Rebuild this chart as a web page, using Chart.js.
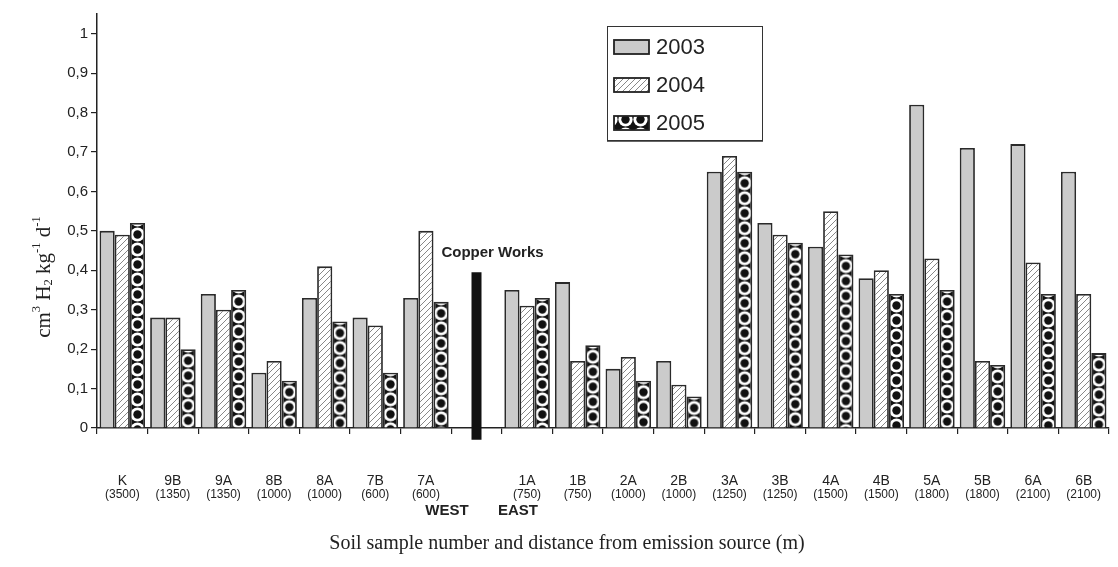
<!DOCTYPE html>
<html>
<head>
<meta charset="utf-8">
<script src="https://cdn.jsdelivr.net/npm/chart.js@4.4.0/dist/chart.umd.min.js"></script>
<style>
    html, body { margin: 0; padding: 0; background: #fff; }
</style>
</head>
<body>
<canvas id="soilChart" width="1118" height="567"></canvas>
<script>
const samples = ['K', '9B', '9A', '8B', '8A', '7B', '7A', '', '1A', '1B', '2A', '2B', '3A', '3B', '4A', '4B', '5A', '5B', '6A', '6B'];
const distances = ['(3500)', '(1350)', '(1350)', '(1000)', '(1000)', '(600)', '(600)', '', '(750)', '(750)', '(1000)', '(1000)', '(1250)', '(1250)', '(1500)', '(1500)', '(1800)', '(1800)', '(2100)', '(2100)'];
const years = ['2003', '2004', '2005'];
const values2003 = [0.50, 0.28, 0.34, 0.14, 0.33, 0.28, 0.33, null, 0.35, 0.37, 0.15, 0.17, 0.65, 0.52, 0.46, 0.38, 0.82, 0.71, 0.72, 0.65];
const values2004 = [0.49, 0.28, 0.30, 0.17, 0.41, 0.26, 0.50, null, 0.31, 0.17, 0.18, 0.11, 0.69, 0.49, 0.55, 0.40, 0.43, 0.17, 0.42, 0.34];
const values2005 = [0.52, 0.20, 0.35, 0.12, 0.27, 0.14, 0.32, null, 0.33, 0.21, 0.12, 0.08, 0.65, 0.47, 0.44, 0.34, 0.35, 0.16, 0.34, 0.19];
const copperWorks = [null, null, null, null, null, null, null, [-0.03, 0.395], null, null, null, null, null, null, null, null, null, null, null, null];
const yTicks = [0, 0.1, 0.2, 0.3, 0.4, 0.5, 0.6, 0.7, 0.8, 0.9, 1];

const ink = '#222';
const ctx = document.getElementById('soilChart').getContext('2d');

// fill tiles for the 2004 and 2005 bars
const hatchTile = document.createElement('canvas');
hatchTile.width = 6; hatchTile.height = 6;
(function () {
    const g = hatchTile.getContext('2d');
    g.fillStyle = '#fff';
    g.fillRect(0, 0, 6, 6);
    g.strokeStyle = '#6a6a6a';
    g.lineWidth = 0.8;
    g.beginPath();
    g.moveTo(-1, 7); g.lineTo(7, -1);
    g.moveTo(-1, 1); g.lineTo(1, -1);
    g.moveTo(5, 7); g.lineTo(7, 5);
    g.stroke();
})();

const dotTile = document.createElement('canvas');
dotTile.width = 15; dotTile.height = 15;
(function () {
    const g = dotTile.getContext('2d');
    g.fillStyle = '#111';
    g.fillRect(0, 0, 15, 15);
    g.fillStyle = '#fff';
    g.beginPath(); g.arc(7.5, 7.5, 7.1, 0, Math.PI * 2); g.fill();
    g.fillStyle = '#111';
    g.beginPath(); g.arc(7.5, 7.5, 4.2, 0, Math.PI * 2); g.fill();
})();

const hatchFill = ctx.createPattern(hatchTile, 'repeat');

function dotFill(tx, ty) {
    const p = ctx.createPattern(dotTile, 'repeat');
    p.setTransform(new DOMMatrix([1, 0, 0, 1, tx, ty]));
    return p;
}

function dotBarFill(c) {
    const xs = c.chart.scales.x, ys = c.chart.scales.y;
    if (!xs || c.dataIndex === undefined || c.raw == null) return dotFill(0, 0);
    const slot = xs.width / samples.length;
    const center = xs.getPixelForValue(c.dataIndex) + slot * 0.3;
    return dotFill(center - 7.5, ys.getPixelForValue(c.raw) + 4);
}

function drawSegments(g, parts, x, y, size) {
    // parts: [text, 'n' | 'sup' | 'sub']
    let cx = x;
    parts.forEach(([t, kind]) => {
        const fs = kind === 'n' ? size : size * 0.6;
        const dy = kind === 'sup' ? -size * 0.33 : kind === 'sub' ? size * 0.22 : 0;
        g.font = fs + 'px "Liberation Serif", "Times New Roman", serif';
        g.fillText(t, cx, y + dy);
        cx += g.measureText(t).width;
    });
    return cx - x;
}

const decorations = {
    id: 'decorations',
    afterDraw(chart) {
        const g = chart.ctx;
        const xs = chart.scales.x, ys = chart.scales.y;
        g.save();
        g.fillStyle = ink;
        g.textAlign = 'center';
        g.textBaseline = 'middle';

        samples.forEach((s, i) => {
            if (!s) return;
            const x = xs.getPixelForValue(i);
            g.font = '14px "Liberation Sans", Arial, sans-serif';
            g.fillText(s, x, 481);
            g.font = '12px "Liberation Sans", Arial, sans-serif';
            g.fillText(distances[i], x, 495);
        });

        g.font = 'bold 15px "Liberation Sans", Arial, sans-serif';
        g.fillText('WEST', 447, 511);
        g.fillText('EAST', 518, 511);

        const cwIndex = copperWorks.findIndex(v => v);
        const cwX = xs.getPixelForValue(cwIndex);
        const cwTop = ys.getPixelForValue(copperWorks[cwIndex][1]);
        g.font = 'bold 15px "Liberation Sans", Arial, sans-serif';
        g.fillText('Copper Works', cwX + 16, cwTop - 19);

        // x axis title
        g.font = '20px "Liberation Serif", "Times New Roman", serif';
        g.fillText('Soil sample number and distance from emission source (m)', 567, 544);

        // y axis title
        g.save();
        g.translate(44, 277);
        g.rotate(-Math.PI / 2);
        g.textAlign = 'left';
        g.textBaseline = 'middle';
        const parts = [['cm', 'n'], ['3', 'sup'], [' H', 'n'], ['2', 'sub'], [' kg', 'n'], ['-1', 'sup'], [' d', 'n'], ['-1', 'sup']];
        g.globalAlpha = 0;
        const w = drawSegments(g, parts, 0, 0, 21);
        g.globalAlpha = 1;
        drawSegments(g, parts, -w / 2, 0, 21);
        g.restore();

        // legend
        const lx = 607, ly = 26, lw = 155, lh = 114;
        g.strokeStyle = '#333';
        g.lineWidth = 1;
        g.strokeRect(lx + 0.5, ly + 0.5, lw, lh);
        g.lineWidth = 1.5;
        g.beginPath();
        g.moveTo(lx, ly + lh + 1); g.lineTo(lx + lw + 1, ly + lh + 1);
        g.stroke();
        g.textAlign = 'left';
        g.font = '22px "Liberation Sans", Arial, sans-serif';
        years.forEach((yr, i) => {
            const cy = 47 + i * 38;
            const sx = 614, sy = cy - 7, sw = 35, sh = 14;
            const ds = chart.data.datasets[i];
            g.fillStyle = i === 2 ? dotFill(sx + 4, sy - 4) : ds.backgroundColor;
            g.fillRect(sx, sy, sw, sh);
            g.strokeStyle = ink;
            g.lineWidth = 1.8;
            g.strokeRect(sx, sy, sw, sh);
            g.fillStyle = ink;
            g.fillText(yr, 656, cy + 1);
        });
        g.restore();
    }
};

const soilChart = new Chart(ctx, {
    type: 'bar',
    data: {
        labels: samples,
        datasets: [
            { label: years[0], data: values2003, backgroundColor: '#cbcbcb' },
            { label: years[1], data: values2004, backgroundColor: hatchFill },
            { label: years[2], data: values2005, backgroundColor: dotBarFill },
            {
                label: 'Copper Works', data: copperWorks, backgroundColor: '#111',
                borderWidth: 0, grouped: false, maxBarThickness: 10, clip: false
            }
        ]
    },
    options: {
        responsive: false,
        animation: false,
        events: [],
        layout: { padding: { left: 0, top: 14, right: 9, bottom: 0 } },
        datasets: {
            bar: {
                categoryPercentage: 0.9,
                barPercentage: 1.0,
                borderColor: '#2a2a2a',
                borderWidth: 1.8
            }
        },
        scales: {
            x: {
                afterFit: s => { s.height = 139; },
                grid: { display: true, offset: true, drawOnChartArea: false, drawTicks: true, tickLength: 6, color: ink, lineWidth: 1.2 },
                border: { display: true, color: ink, width: 1.5 },
                ticks: { display: false }
            },
            y: {
                min: 0,
                max: 1.05,
                afterFit: s => { s.width = 97; },
                afterBuildTicks: s => { s.ticks = yTicks.map(v => ({ value: v })); },
                grid: { drawOnChartArea: false, drawTicks: true, tickLength: 6, color: ink, lineWidth: 1.2 },
                border: { display: true, color: ink, width: 1.5 },
                ticks: {
                    color: ink,
                    padding: 3,
                    font: { family: '"Liberation Sans", Arial, sans-serif', size: 15 },
                    callback: v => (v === 0 || v === 1) ? String(v) : v.toFixed(1).replace('.', ',')
                }
            }
        },
        plugins: {
            legend: { display: false },
            tooltip: { enabled: false }
        }
    },
    plugins: [decorations]
});
</script>
</body>
</html>
